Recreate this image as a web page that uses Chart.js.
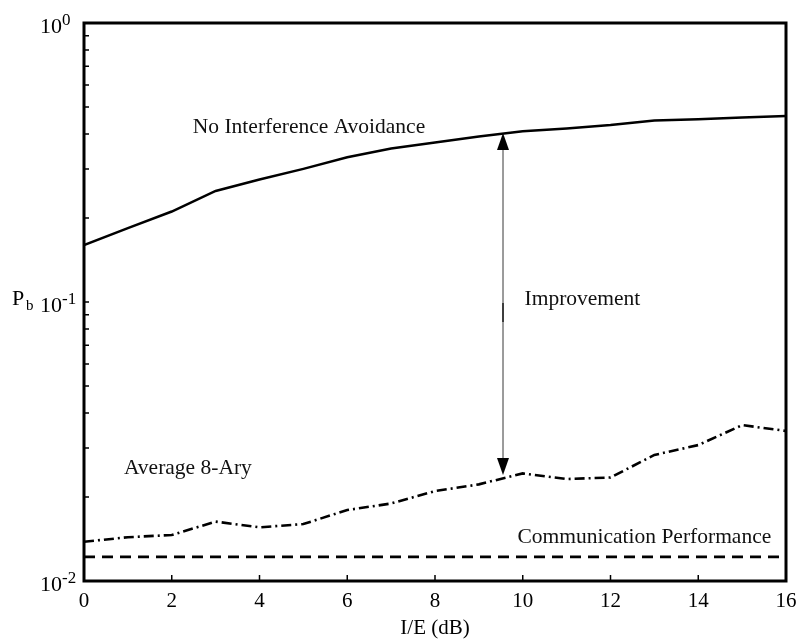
<!DOCTYPE html>
<html>
<head>
<meta charset="utf-8">
<script src="https://cdn.jsdelivr.net/npm/chart.js@4/dist/chart.umd.min.js"></script>
<style>
  body { margin: 0; background: #fff; }
  #wrap { width: 798px; height: 641px; }
</style>
</head>
<body>
<div id="wrap"><canvas id="chart"></canvas></div>
<script>
// Datos
const ieDb = [0, 1, 2, 3, 4, 5, 6, 7, 8, 9, 10, 11, 12, 13, 14, 15, 16];
const noAvoidance = [0.160, 0.184, 0.211, 0.250, 0.275, 0.300, 0.330, 0.355, 0.373, 0.392, 0.409, 0.419, 0.431, 0.447, 0.452, 0.458, 0.464];
const average8Ary = [0.01383, 0.01435, 0.01462, 0.01633, 0.01557, 0.01600, 0.01796, 0.01896, 0.0210, 0.0222, 0.0243, 0.0232, 0.0235, 0.0283, 0.0307, 0.0362, 0.0345];
const commX = [0, 16];
const commPerf = [0.0122, 0.0122];

const xTicks = [0, 2, 4, 6, 8, 10, 12, 14, 16];
const yMajor = [0.01, 0.1, 1];
const yExponents = ['-2', '-1', '0'];
const yMinor = [0.02, 0.03, 0.04, 0.05, 0.06, 0.07, 0.08, 0.09, 0.2, 0.3, 0.4, 0.5, 0.6, 0.7, 0.8, 0.9];

// Flecha "Improvement"
const arrowX = 9.55;
const arrowTop = 0.403;
const arrowBottom = 0.0240;

const SERIF = '"Liberation Serif", "Times New Roman", serif';

const notes = [
    { text: 'No Interference Avoidance', x: 2.48, y: 0.403 },
    { text: 'Improvement', x: 10.04, y: 0.0975 },
    { text: 'Average 8-Ary', x: 0.91, y: 0.02412 },
    { text: 'Communication Performance', x: 9.88, y: 0.01365 }
];

const toPoints = (xs, ys) => xs.map((x, i) => ({ x: x, y: ys[i] }));

// Marco, marcas, flecha y textos
const decorPlugin = {
    id: 'decor',
    afterDatasetsDraw(chart) {
        const ctx = chart.ctx;
        const area = chart.chartArea;
        const xs = chart.scales.x;
        const ys = chart.scales.y;
        ctx.save();

        // flecha
        const ax = xs.getPixelForValue(arrowX);
        const top = ys.getPixelForValue(arrowTop);
        const bot = ys.getPixelForValue(arrowBottom);
        const headL = 17, headW = 6;
        ctx.strokeStyle = '#666';
        ctx.lineWidth = 1.3;
        ctx.beginPath();
        ctx.moveTo(ax, top + headL);
        ctx.lineTo(ax, bot - headL);
        ctx.stroke();
        ctx.strokeStyle = '#333';
        ctx.lineWidth = 1.8;
        ctx.beginPath();
        ctx.moveTo(ax, ys.getPixelForValue(0.0992));
        ctx.lineTo(ax, ys.getPixelForValue(0.0848));
        ctx.stroke();
        ctx.fillStyle = '#000';
        ctx.beginPath();
        ctx.moveTo(ax, top);
        ctx.lineTo(ax - headW, top + headL);
        ctx.lineTo(ax + headW, top + headL);
        ctx.closePath();
        ctx.fill();
        ctx.beginPath();
        ctx.moveTo(ax, bot);
        ctx.lineTo(ax - headW, bot - headL);
        ctx.lineTo(ax + headW, bot - headL);
        ctx.closePath();
        ctx.fill();

        // textos
        ctx.font = '21.5px ' + SERIF;
        ctx.fillStyle = '#111';
        ctx.textAlign = 'left';
        ctx.textBaseline = 'alphabetic';
        notes.forEach(n => {
            ctx.fillText(n.text, xs.getPixelForValue(n.x), ys.getPixelForValue(n.y));
        });

        // marcas hacia dentro
        ctx.strokeStyle = '#000';
        ctx.lineWidth = 1.5;
        ctx.beginPath();
        xTicks.forEach(v => {
            const px = xs.getPixelForValue(v);
            ctx.moveTo(px, area.bottom);
            ctx.lineTo(px, area.bottom - 6);
        });
        yMinor.concat(yMajor).forEach(v => {
            const py = ys.getPixelForValue(v);
            ctx.moveTo(area.left, py);
            ctx.lineTo(area.left + 5, py);
        });
        ctx.stroke();

        // marco
        ctx.lineWidth = 3;
        ctx.strokeRect(area.left, area.top, area.right - area.left, area.bottom - area.top);

        // etiquetas del eje y con exponente
        ctx.fillStyle = '#000';
        yMajor.forEach((v, i) => {
            const py = ys.getPixelForValue(v);
            ctx.font = '22px ' + SERIF;
            ctx.textAlign = 'right';
            ctx.fillText('10', area.left - 22, py + 9.5);
            ctx.font = '17px ' + SERIF;
            ctx.textAlign = 'left';
            ctx.fillText(yExponents[i], area.left - 22, py + 1.5);
        });

        // P_b
        const pb = ys.getPixelForValue(0.1);
        ctx.font = '22px ' + SERIF;
        ctx.textAlign = 'left';
        ctx.fillText('P', 12, pb + 3);
        ctx.font = '15px ' + SERIF;
        ctx.fillText('b', 26, pb + 8);

        ctx.restore();
    }
};

new Chart(document.getElementById('chart'), {
    type: 'line',
    data: {
        datasets: [
            {
                label: 'No Interference Avoidance',
                data: toPoints(ieDb, noAvoidance),
                borderColor: '#000',
                borderWidth: 2.5
            },
            {
                label: 'Average 8-Ary',
                data: toPoints(ieDb, average8Ary),
                borderColor: '#000',
                borderWidth: 2.6,
                borderDash: [10, 4, 2, 4]
            },
            {
                label: 'Communication Performance',
                data: toPoints(commX, commPerf),
                borderColor: '#000',
                borderWidth: 2.6,
                borderDash: [11, 7]
            }
        ]
    },
    options: {
        responsive: true,
        maintainAspectRatio: false,
        animation: false,
        events: [],
        layout: { padding: { top: 23, right: 12, left: 0, bottom: 0 } },
        elements: { point: { radius: 0 }, line: { tension: 0 } },
        plugins: { legend: { display: false }, tooltip: { enabled: false } },
        scales: {
            x: {
                type: 'linear',
                min: 0,
                max: 16,
                afterFit: s => { s.height = 60; s.paddingLeft = 0; s.paddingRight = 0; },
                afterBuildTicks: s => { s.ticks = xTicks.map(v => ({ value: v })); },
                ticks: {
                    color: '#000',
                    font: { family: SERIF, size: 21 },
                    padding: 8,
                    maxRotation: 0
                },
                grid: { display: false, drawTicks: false },
                border: { display: false },
                title: {
                    display: true,
                    text: 'I/E (dB)',
                    color: '#000',
                    font: { family: SERIF, size: 21 },
                    padding: { top: 0, bottom: 0 }
                }
            },
            y: {
                type: 'logarithmic',
                min: 0.01,
                max: 1,
                afterFit: s => { s.width = 84; s.paddingTop = 0; s.paddingBottom = 0; },
                ticks: { display: false },
                grid: { display: false, drawTicks: false },
                border: { display: false }
            }
        }
    },
    plugins: [decorPlugin]
});
</script>
</body>
</html>
